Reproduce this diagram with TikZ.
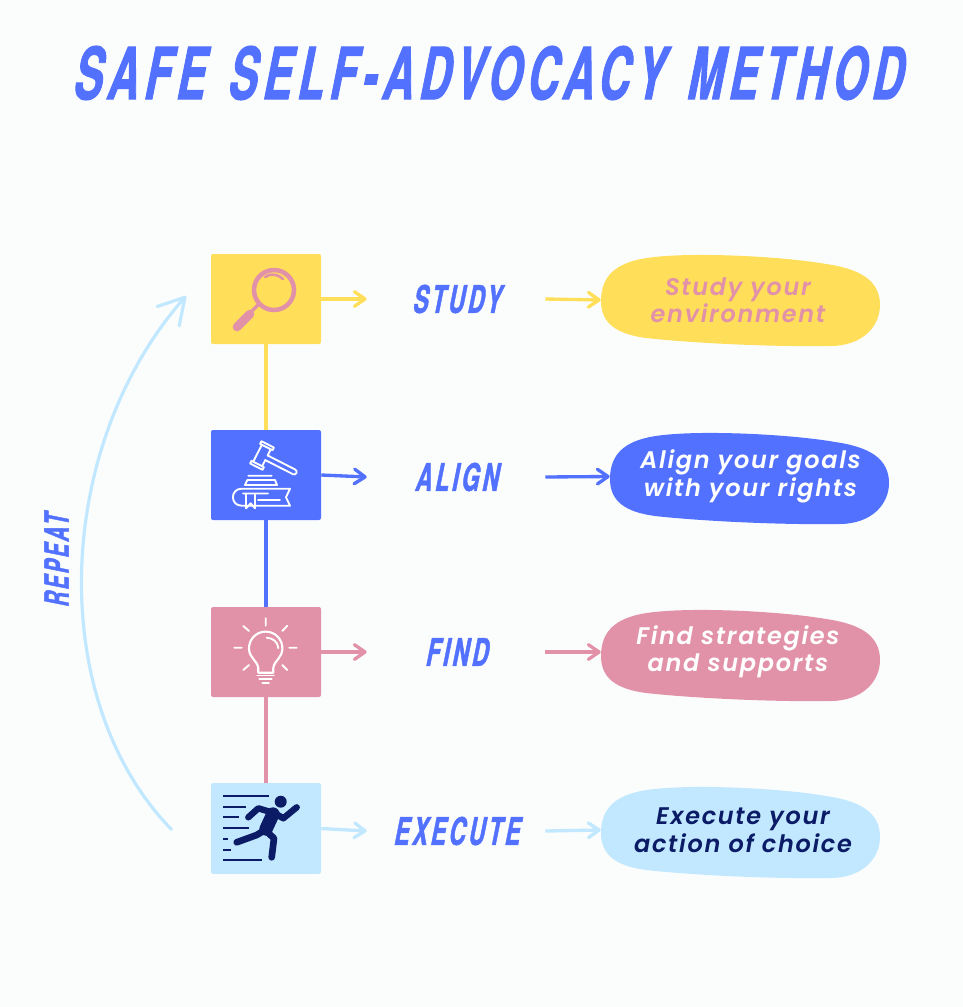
\documentclass[tikz,border=0pt]{standalone}
\usepackage{fontspec}
\usetikzlibrary{arrows.meta}
\newfontfamily\headfont{TeX Gyre Heros}[FakeStretch=0.6,FakeSlant=0.2,LetterSpace=8,FakeBold=1.2]
\newfontfamily\pillfont{Poppins}[LetterSpace=7,BoldItalicFont={Poppins SemiBold Italic}]
\definecolor{cbg}{HTML}{FBFDFD}
\definecolor{cyel}{HTML}{FFDE59}
\definecolor{cblu}{HTML}{5271FF}
\definecolor{cpnk}{HTML}{E292A8}
\definecolor{clig}{HTML}{C1E8FF}
\definecolor{cnav}{HTML}{0B1B66}
\tikzset{
 iconbox/.style={fill=#1,minimum width=82.5pt,minimum height=67.5pt,inner sep=0pt,rounded corners=1.5pt},
 steplabel/.style={font=\headfont\bfseries\fontsize{28.5}{28.5}\selectfont,text=cblu,minimum width=133.5pt,inner sep=0pt},
 pilltext/.style={font=\pillfont\bfseries\itshape\fontsize{18}{20.6}\selectfont,align=center,inner sep=0pt,text=#1},
 link/.style={draw=#1,line width=2.4pt},
 flow/.style={draw=#1,line width=2.5pt,-{Straight Barb[length=8pt,width=11pt,round]}},
 wline/.style={draw=white,line width=1.4pt,line cap=round,line join=round},
 nline/.style={draw=cnav,line width=1.4pt},
 nbody/.style={draw=cnav,line cap=round,line join=round},
}
\newcommand{\blob}[3]{\fill[#3,shift={(#1,#2)}] (0,0) .. controls (0,-25) and (15,-37) .. (40,-42) .. controls (80,-50) and (180,-45) .. (225,-37) .. controls (260,-32) and (279,-20) .. (279,4) .. controls (279,25) and (262,45) .. (229,45) .. controls (170,46) and (90,42) .. (45,37) .. controls (15,33) and (0,22) .. (0,0) -- cycle;}
\begin{document}
\begin{tikzpicture}[x=0.75pt,y=-0.75pt]
\useasboundingbox (0,0) rectangle (963,1007);
\fill[cbg] (0,0) rectangle (963,1007);
% title
\node[font=\headfont\bfseries\fontsize{54}{54}\selectfont,text=cblu,inner sep=0pt] (title) at (486.5,73) {SAFE\hspace{4pt} SELF-ADVOCACY\hspace{4pt} METHOD};
% blobs
\blob{601}{301}{cyel}
\blob{610}{479}{cblu}
\blob{601}{656}{cpnk}
\blob{601}{833}{clig}
% boxes
\node[iconbox=cyel] (b1) at (266,299) {};
\node[iconbox=cblu] (b2) at (266,475) {};
\node[iconbox=cpnk] (b3) at (266,652) {};
\node[iconbox=clig,minimum height=68pt] (b4) at (266,828.5) {};
% labels
\node[steplabel] (l1) at (456,299) {STUDY};
\node[steplabel] (l2) at (456,477) {ALIGN};
\node[steplabel] (l3) at (456,652) {FIND};
\node[steplabel] (l4) at (456,831) {EXECUTE};
% pill text
\node[pilltext=cpnk,minimum width=205.5pt] (p1) at (738,300) {Study your\\environment};
\node[pilltext=white,minimum width=210.75pt] (p2) at (750.5,476.5) {Align your goals\\with your rights};
\node[pilltext=white,minimum width=205.5pt] (p3) at (738,652) {Find strategies\\and supports};
\node[pilltext=cnav,minimum width=213pt] (p4) at (743,830) {Execute your\\action of choice};
% links
\draw[link=cyel] (b1) -- (b2);
\draw[link=cblu] (b2) -- (b3);
\draw[link=cpnk] (b3) -- (b4);
% flows
\draw[flow=cyel] (b1.east) -- (l1.west);
\draw[flow=cyel] (l1.east) -- (p1.west);
\draw[flow=cblu] (b2.east) -- (l2.west);
\draw[flow=cblu] (l2.east) -- (p2.west);
\draw[flow=cpnk] (b3.east) -- (l3.west);
\draw[flow=cpnk] (l3.east) -- (p3.west);
\draw[flow=clig] (b4.east) -- (l4.west);
\draw[flow=clig] (l4.east) -- (p4.west);
% repeat arrow
\coordinate (rs) at (172,830);
\coordinate (re) at (186,296);
\draw[draw=clig,line width=2.4pt,-{Straight Barb[length=19pt,width=22pt,round]}] (rs) .. controls (45,700) and (54,446) .. (re);
\node[rotate=90,font=\headfont\bfseries\fontsize{25}{25}\selectfont,text=cblu,inner sep=0pt] (rep) at (56.5,561) {REPEAT};
% magnifier
\draw[cpnk,line width=3.4pt] (274,290) circle (20);
\draw[cpnk,line width=2pt,line cap=round] (265,277) .. controls (270,273) and (278,274) .. (283,279);
\draw[cpnk,line width=2.6pt] (259,304) -- (252,311);
\draw[cpnk,line width=6.5pt,line cap=round] (250,314) -- (237,327);
% gavel
\begin{scope}[shift={(262,455.5)},rotate=-27]
\draw[wline] (-7,-12.5) rectangle (7,-9.5);
\draw[wline] (-7,9.5) rectangle (7,12.5);
\draw[wline] (-5,-9.5) -- (-5,9.5) (5,-9.5) -- (5,-2.6) (5,2.6) -- (5,9.5);
\draw[wline] (5,-2.6) -- (36,-2.6) arc (-90:90:2.6) -- (5,2.6);
\end{scope}
\draw[wline] (248.3,475.7) -- (271.7,475.7) (247.3,480) -- (275,480) -- (277,485) -- (245,485) -- cycle;
\draw[wline] (290,488.7) -- (241.7,488.7) .. controls (230,488.7) and (230,505.7) .. (241.7,505.7) -- (290,505.7) -- (286,497.3) -- cycle;
\draw[wline] (243,493.5) -- (268,493.5) (246,494) -- (246,508.3) -- (250.7,503.3) -- (255,508.3) -- (255,494) (258,500) -- (280,500);
% bulb
\draw[wline] (265.7,618.3) -- (265.7,625.7) (234.3,647.7) -- (241.7,647.7) (289.3,647.7) -- (296.7,647.7)
 (243.3,626) -- (249,631) (287.3,625.7) -- (282.3,631) (243.3,670) -- (249,665) (287.3,670) -- (282.3,665);
\draw[wline,line width=1.6pt] (258.3,672.7) -- (258.3,668) .. controls (257,660) and (249,658) .. (249,648.3) arc (180:360:16.7) .. controls (282.4,658) and (274.5,660) .. (273.3,668) -- (273.3,672.7) -- cycle;
\draw[wline] (266.7,637.7) .. controls (273,638) and (278,642) .. (278.3,648.3);
\draw[wline] (257.3,675.5) -- (274,675.5) (259.3,679) -- (271.7,679) (262.3,682.7) -- (269,682.7);
% runner
\draw[nline] (223.3,795.7) -- (269.3,795.7) (223.3,806.7) -- (245.7,806.7) (223.3,817.3) -- (239,817.3) (223.3,828.3) -- (249,828.3) (223.3,839) -- (227.7,839) (223.3,849.7) -- (230.7,849.7) (223.3,860.3) -- (262.3,860.3);
\fill[cnav] (280.7,801.7) circle (6);
\draw[nbody,line width=4.8pt] (248.3,817.3) -- (258.3,808.3) -- (275,813.3) -- (283.3,818.3) -- (296.7,807.3);
\draw[nbody,line width=10pt] (273,814) -- (266,829);
\draw[nbody,line width=5pt] (265,830) -- (256.7,835) -- (236.7,842.3);
\draw[nbody,line width=5pt] (265,830) -- (274,838.3) -- (271.7,857.3);
\end{tikzpicture}
\end{document}
